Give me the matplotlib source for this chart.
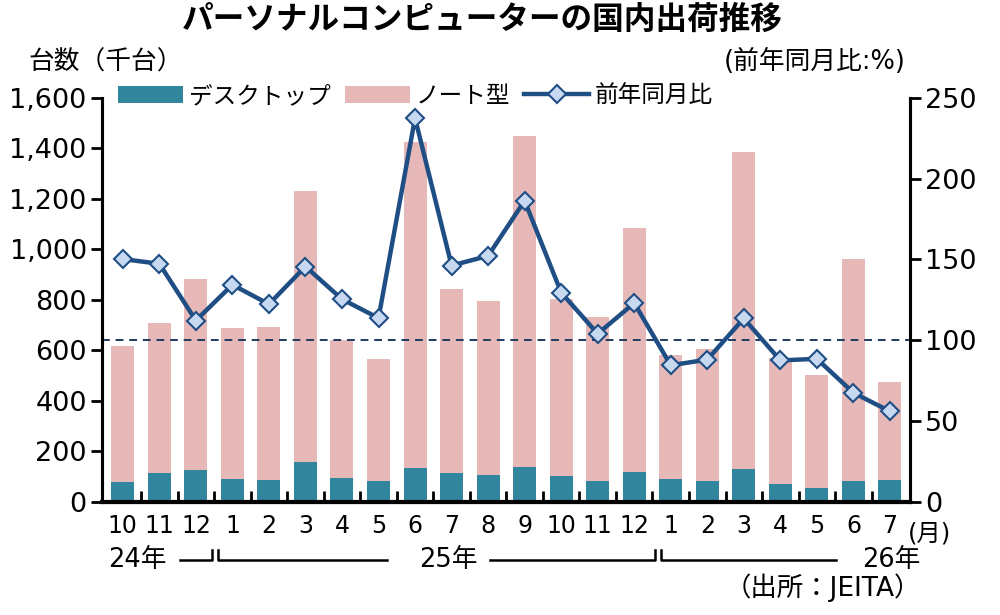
import matplotlib
matplotlib.use("Agg")
import matplotlib.pyplot as plt
import matplotlib.transforms as mtransforms

plt.rcParams['font.family'] = ['DejaVu Sans', 'Noto Sans CJK JP']

# months from 2024/10 to 2026/7
months = ["10", "11", "12", "1", "2", "3", "4", "5", "6", "7", "8", "9",
          "10", "11", "12", "1", "2", "3", "4", "5", "6", "7"]

# shipments (thousand units)
desktop = [78, 114, 125, 92, 87, 158, 93, 84, 134, 114, 107, 139,
           104, 84, 117, 91, 82, 130, 69, 55, 82, 87]
notebook = [539, 593, 759, 597, 604, 1074, 548, 481, 1289, 728, 690, 1308,
            700, 648, 969, 490, 525, 1256, 499, 447, 881, 388]

# year-on-year ratio (%)
yoy = [150.2, 147.3, 112.2, 134.3, 122.3, 145.6, 125.4, 113.7, 237.4, 146.2, 152.2, 186.3,
       129.5, 104, 123, 84.5, 88, 113.5, 87.5, 88.5, 67.5, 56]

col_desk = "#31859c"
col_note = "#e6b9b8"
col_line = "#1f4e85"
col_face = "#c6d9f1"

fig = plt.figure(figsize=(10, 6.15), dpi=100)
ax = fig.add_axes([0.102, 0.184, 0.808, 0.657])
ax2 = ax.twinx()

x = list(range(len(months)))
b1 = ax.bar(x, desktop, width=0.63, color=col_desk, label="デスクトップ")
b2 = ax.bar(x, notebook, width=0.63, bottom=desktop, color=col_note, label="ノート型")

ax2.axhline(100, color="#1f3a5f", lw=1.4, ls=(0, (4, 3)))
ln, = ax2.plot(x, yoy, color=col_line, lw=3.2, marker="D", ms=9,
               mfc=col_face, mec=col_line, mew=1.5, label="前年同月比")

ax.set_xlim(-0.57, 21.55)
ax.set_ylim(0, 1600)
ax2.set_ylim(0, 250)
ax.set_yticks(range(0, 1601, 200))
ax.set_yticklabels([f"{v:,}" for v in range(0, 1601, 200)])
ax2.set_yticks(range(0, 251, 50))

ax.set_xticks(x)
ax.set_xticklabels(months)
ax.set_xticks([i + 0.5 for i in range(21)], minor=True)
ax.tick_params(axis="x", which="major", length=0, labelsize=17, pad=9)
ax.tick_params(axis="x", which="minor", direction="in", length=8, width=2)
ax.tick_params(axis="y", direction="out", length=8, width=2, labelsize=19.5, pad=3)
ax2.tick_params(axis="y", direction="out", length=8, width=2, labelsize=19.5, pad=3)

for a in (ax, ax2):
    a.spines["top"].set_visible(False)
    for s in ("left", "right", "bottom"):
        a.spines[s].set_linewidth(2.2)
ax.spines["bottom"].set_linewidth(3)

ax2.legend([b1, b2, ln], ["デスクトップ", "ノート型", "前年同月比"],
           loc="center left", bbox_to_anchor=(0.02, 1.005), ncol=3,
           frameon=False, fontsize=17, handlelength=2.75, handleheight=0.72,
           handletextpad=0.25, columnspacing=0.6, borderpad=0, borderaxespad=0)

# year brackets under the month labels
tr = mtransforms.blended_transform_factory(ax.transData, ax.transAxes)
yl, yt = -0.143, -0.12
ax.plot([1.57, 2.43, 2.43], [yl, yl, yt], color="black", lw=1.8, transform=tr, clip_on=False)
ax.plot([2.6, 2.6, 7.23], [yt, yl, yl], color="black", lw=1.8, transform=tr, clip_on=False)
ax.plot([10.04, 14.58, 14.58], [yl, yl, yt], color="black", lw=1.8, transform=tr, clip_on=False)
ax.plot([14.72, 14.72, 19.53], [yt, yl, yl], color="black", lw=1.8, transform=tr, clip_on=False)
ax.text(0.39, -0.145, "24年", transform=tr, ha="center", va="center", fontsize=18.5)
ax.text(8.92, -0.145, "25年", transform=tr, ha="center", va="center", fontsize=18.5)
ax.text(21.04, -0.145, "26年", transform=tr, ha="center", va="center", fontsize=18.5)

fig.text(0.929, 0.133, "(月)", ha="center", va="center", fontsize=17.5)
fig.text(0.823, 0.044, "（出所：JEITA）", ha="center", va="center", fontsize=19)
fig.text(0.106, 0.899, "台数（千台）", ha="center", va="center", fontsize=18.5)
fig.text(0.815, 0.899, "(前年同月比:%)", ha="center", va="center", fontsize=18.5)
fig.text(0.482, 0.967, "パーソナルコンピューターの国内出荷推移", ha="center", va="center",
         fontsize=22.8, fontweight="bold")

fig.savefig("out.png", dpi=100)
